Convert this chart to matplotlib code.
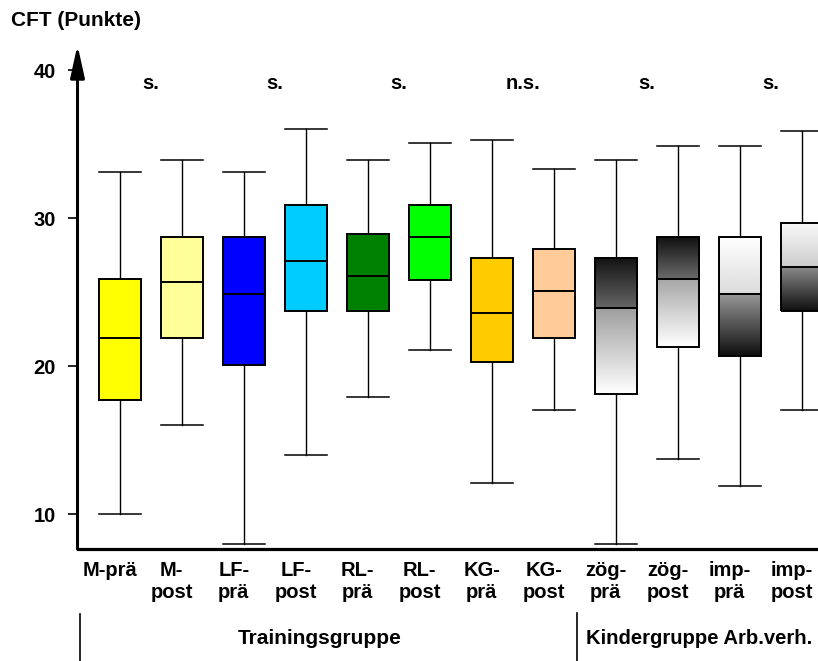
import numpy as np
import matplotlib
matplotlib.use("Agg")
import matplotlib.pyplot as plt
from matplotlib.lines import Line2D

plt.rcParams['font.family'] = ['Liberation Sans', 'DejaVu Sans']
plt.rcParams['font.weight'] = 'bold'

# ---- data ----
categories = ["M-prä", "M-\npost", "LF-\nprä", "LF-\npost", "RL-\nprä", "RL-\npost",
              "KG-\nprä", "KG-\npost", "zög-\nprä", "zög-\npost", "imp-\nprä", "imp-\npost"]
whis_hi = [33.1, 33.9, 33.1, 36.0, 33.9, 35.1, 35.3, 33.3, 33.9, 34.9, 34.9, 35.9]
q3      = [25.9, 28.7, 28.7, 30.9, 28.9, 30.9, 27.3, 27.9, 27.3, 28.7, 28.7, 29.7]
median  = [21.9, 25.7, 24.9, 27.1, 26.1, 28.7, 23.6, 25.1, 23.9, 25.9, 24.9, 26.7]
q1      = [17.7, 21.9, 20.1, 23.7, 23.7, 25.8, 20.3, 21.9, 18.1, 21.3, 20.7, 23.7]
whis_lo = [10.0, 16.0, 8.0, 14.0, 17.9, 21.1, 12.1, 17.0, 8.0, 13.7, 11.9, 17.0]
significance = ["s.", "s.", "s.", "n.s.", "s.", "s."]
groups = ["Trainingsgruppe", "Kindergruppe Arb.verh."]
y_ticks = [10, 20, 30, 40]
y_label = "CFT (Punkte)"

# ---- styles ----
colors = ["#FFFF00", "#FFFF99", "#0000FF", "#00CCFF", "#008000", "#00FF00",
          "#FFCC00", "#FFCC99", None, None, None, None]
# gradient grey levels (top of box -> median, median -> bottom of box)
gradients = {8: ((0.07, 0.40), (0.62, 1.0)),
             9: ((0.07, 0.42), (0.65, 1.0)),
             10: ((1.0, 0.86), (0.60, 0.06)),
             11: ((0.98, 0.80), (0.55, 0.06))}
label_offset = 0.165  # tick labels sit slightly left of the box centres

W, H = 818, 661
fig = plt.figure(figsize=(W / 100, H / 100), dpi=100)
ax_left, ax_bottom_px, ax_top_px = 77.5, 549, 45
ax = fig.add_axes([ax_left / W, (H - ax_bottom_px) / H, (W - ax_left) / W,
                   (ax_bottom_px - ax_top_px) / H])

stats = []
for i in range(len(categories)):
    stats.append(dict(med=median[i], q1=q1[i], q3=q3[i],
                      whislo=whis_lo[i], whishi=whis_hi[i], fliers=[]))

pos = np.arange(len(categories))
bw = 0.69
bp = ax.bxp(stats, positions=pos, widths=bw, patch_artist=True, showfliers=False,
            boxprops=dict(linewidth=1.4, edgecolor='black'),
            medianprops=dict(color='black', linewidth=1.4),
            whiskerprops=dict(color='black', linewidth=1.0),
            capprops=dict(color='black', linewidth=1.1),
            capwidths=bw)
for i, patch in enumerate(bp['boxes']):
    patch.set_zorder(3)
    if colors[i] is None:
        patch.set_facecolor('none')
    else:
        patch.set_facecolor(colors[i])
for ln in bp['medians']:
    ln.set_zorder(4)

for i, ((ut, um), (lm, lb)) in gradients.items():
    x0, x1 = pos[i] - bw / 2, pos[i] + bw / 2
    up = np.linspace(ut, um, 128).reshape(-1, 1)
    lo = np.linspace(lm, lb, 128).reshape(-1, 1)
    ax.imshow(up, cmap='gray', vmin=0, vmax=1, aspect='auto', origin='upper',
              extent=[x0, x1, median[i], q3[i]], interpolation='bilinear', zorder=2)
    ax.imshow(lo, cmap='gray', vmin=0, vmax=1, aspect='auto', origin='upper',
              extent=[x0, x1, q1[i], median[i]], interpolation='bilinear', zorder=2)

ax.set_xlim((ax_left - 120) / 62, (W - 120) / 62)
ax.set_ylim(7.64, 41.7)

for k, s in enumerate(significance):
    ax.text(2 * k + 0.5, 39.1, s, ha='center', va='center', fontsize=14.5,
            fontweight='bold')

ax.set_xticks(pos - label_offset)
ax.set_xticklabels(categories, fontsize=14.5, fontweight='bold', linespacing=1.15)
ax.set_yticks(y_ticks)
ax.set_yticklabels([str(t) for t in y_ticks], fontsize=14.5, fontweight='bold')
ax.tick_params(axis='x', length=0, pad=9)
ax.tick_params(axis='y', length=7.5, width=1.2, pad=8, direction='out')

for side in ['top', 'right', 'left']:
    ax.spines[side].set_visible(False)
ax.spines['bottom'].set_linewidth(2.3)

ax.annotate('', xy=(0, 1), xytext=(0, 0), xycoords='axes fraction',
            textcoords='axes fraction', annotation_clip=False,
            arrowprops=dict(arrowstyle='-|>,head_length=1.95,head_width=0.43',
                            mutation_scale=10, lw=2.2, color='black',
                            shrinkA=0, shrinkB=0))

fig.text(11 / W, 1 - 20 / H, y_label, ha='left', va='center', fontsize=15,
         fontweight='bold')

# group labels and separators
fig.add_artist(Line2D([80 / W, 80 / W], [0, 1 - 614 / H], color='black', lw=1.2))
fig.add_artist(Line2D([577 / W, 577 / W], [0, 1 - 613 / H], color='black', lw=1.2))
fig.text(320 / W, 1 - 638 / H, groups[0], ha='center', va='center', fontsize=15,
         fontweight='bold')
fig.text(586 / W, 1 - 638 / H, groups[1], ha='left', va='center', fontsize=14.6,
         fontweight='bold')

fig.savefig("out.png", dpi=100)
